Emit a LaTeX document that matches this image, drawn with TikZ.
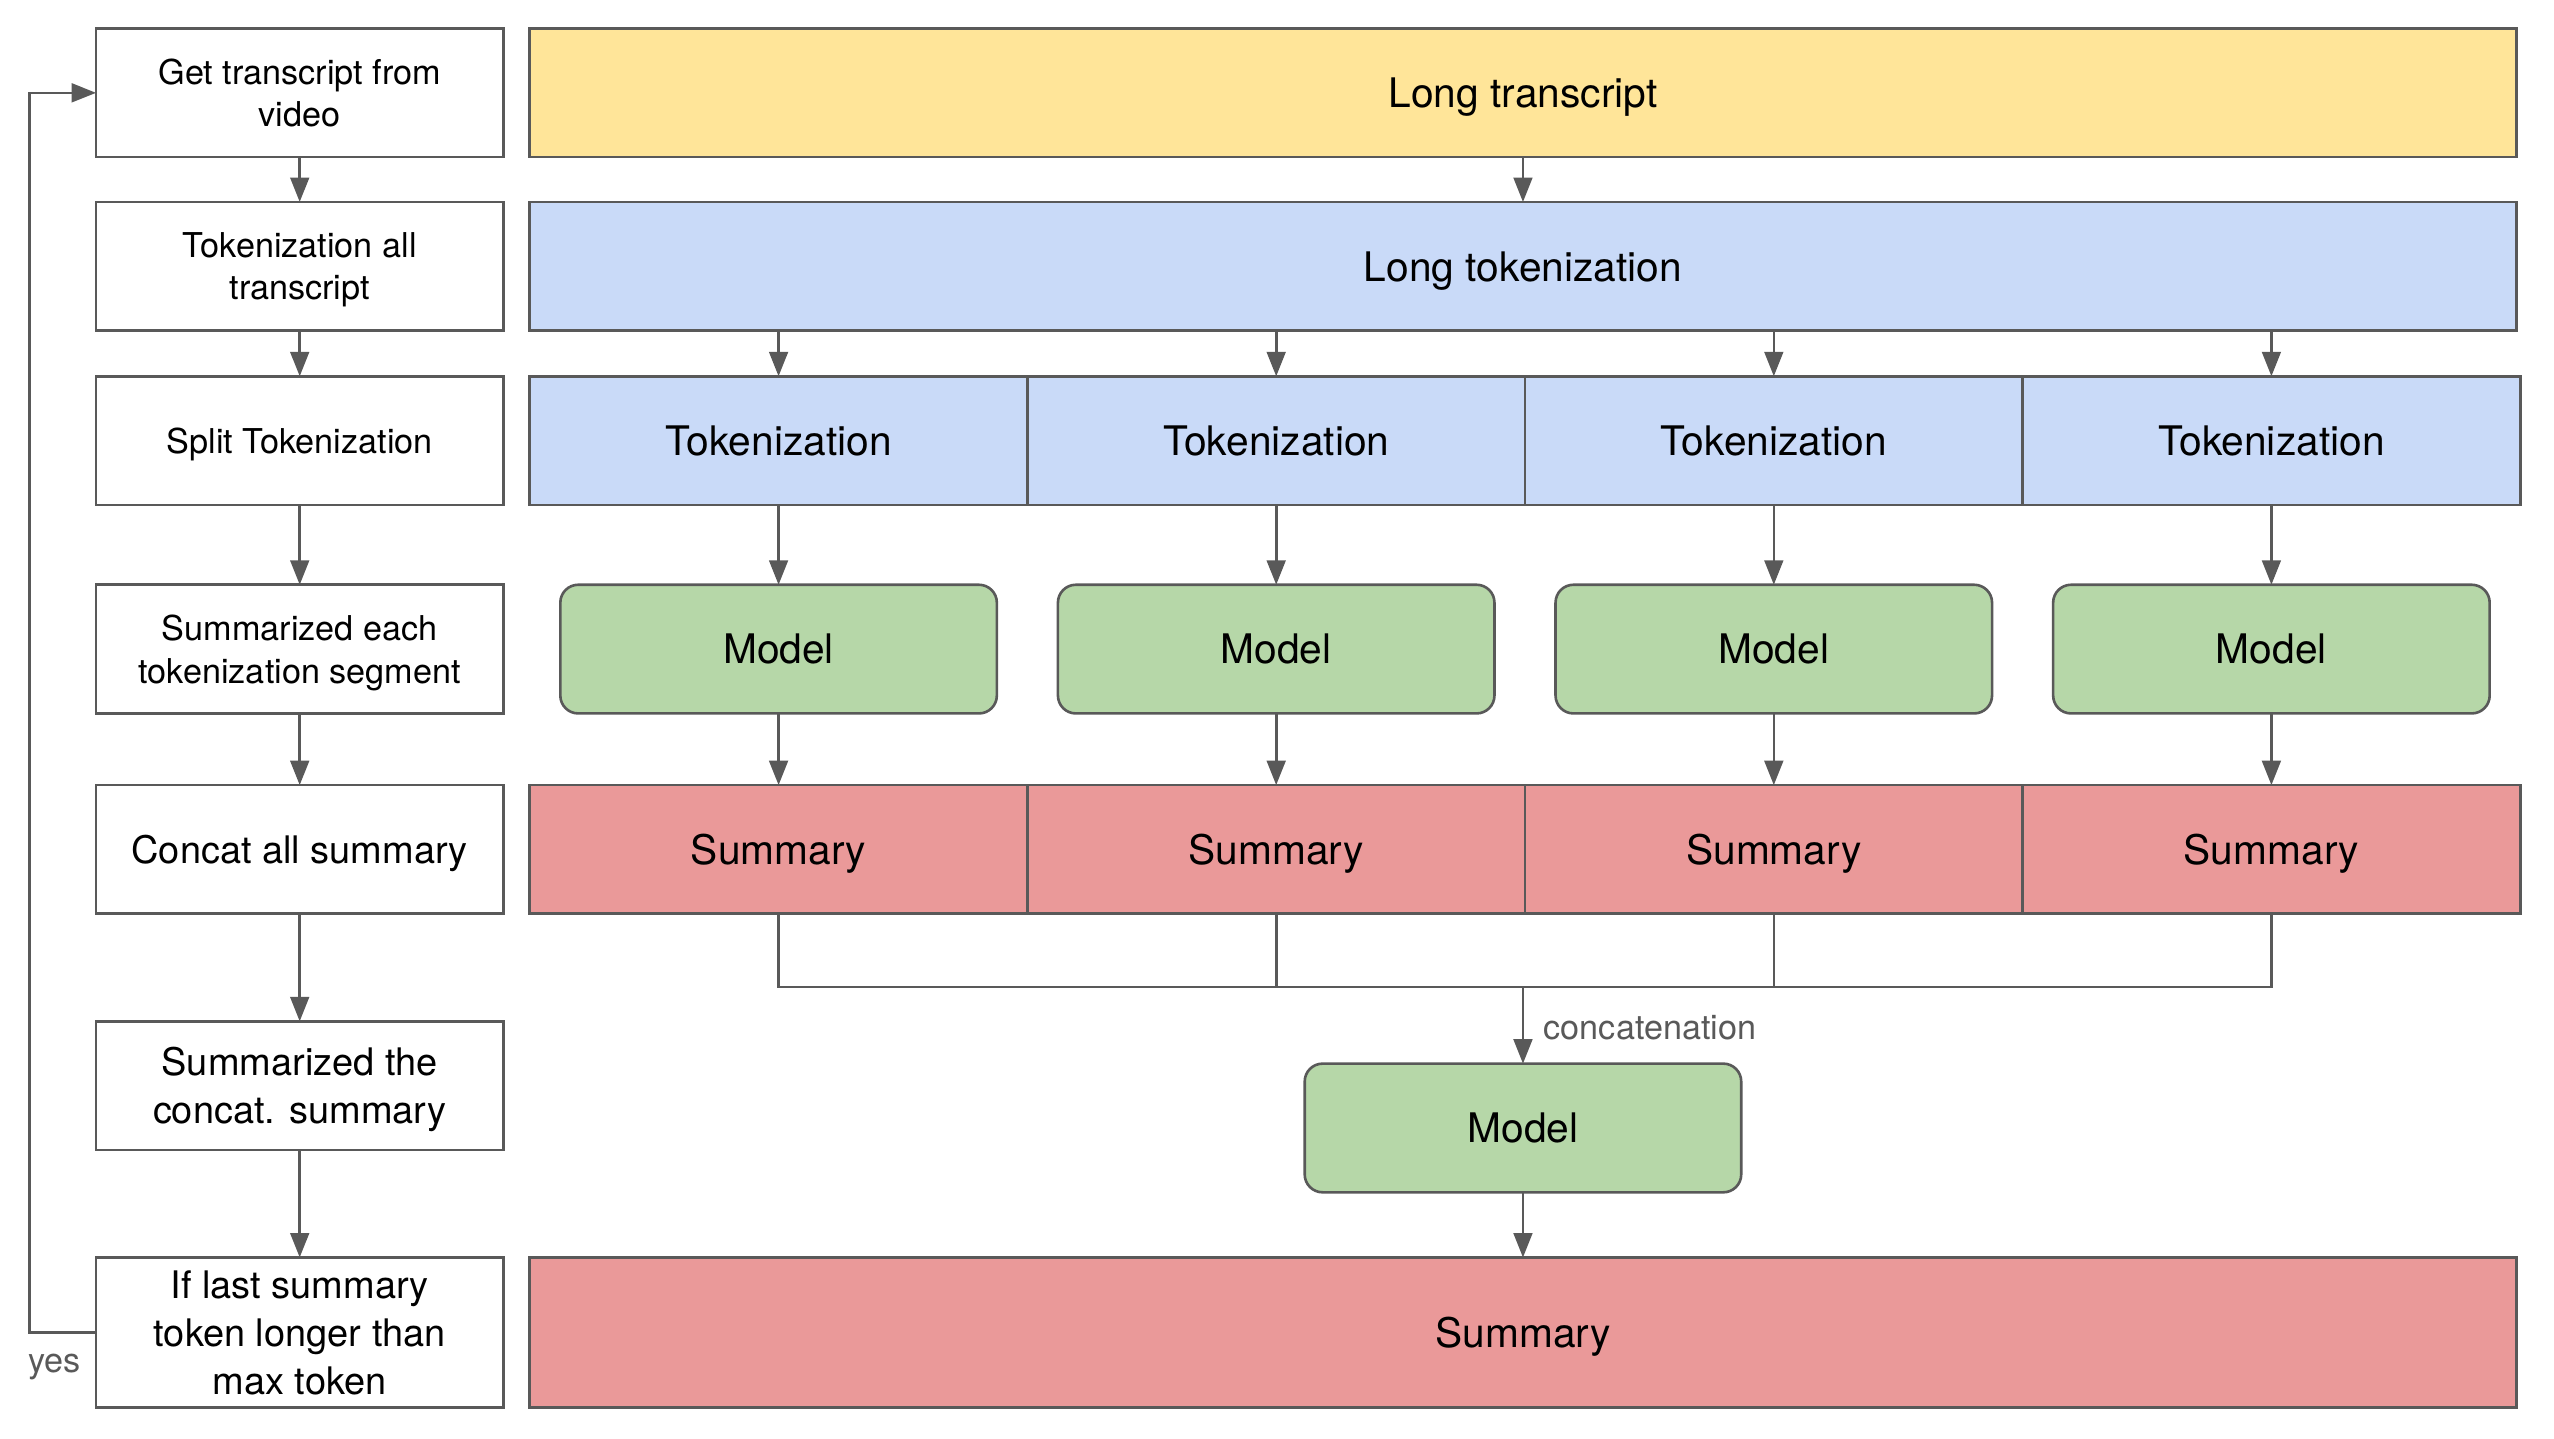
\documentclass[tikz,border=0pt]{standalone}
\usepackage{fontspec}
\setmainfont{TeX Gyre Heros}
\usetikzlibrary{arrows.meta}
\definecolor{lc}{HTML}{595959}
\definecolor{cyel}{HTML}{FFE599}
\definecolor{cblu}{HTML}{C9DAF8}
\definecolor{cgrn}{HTML}{B6D7A8}
\definecolor{cred}{HTML}{EA9999}
\tikzset{
  base/.style={draw=lc, line width=1.6pt, inner sep=0pt, outer sep=0pt, align=center, text=black, text depth=0pt},
  lbox/.style={base, fill=white, minimum width=250pt, minimum height=79pt, font=\fontsize{21pt}{26pt}\selectfont},
  lboxb/.style={lbox, font=\fontsize{23.3pt}{29.5pt}\selectfont},
  wide/.style={base, minimum width=1220pt, minimum height=79pt, font=\fontsize{25pt}{31pt}\selectfont},
  seg/.style={base, minimum width=305.5pt, minimum height=79pt, font=\fontsize{25pt}{31pt}\selectfont},
  modelbox/.style={base, fill=cgrn, rounded corners=11pt, minimum width=268pt, minimum height=79pt, font=\fontsize{25pt}{31pt}\selectfont},
  conn/.style={draw=lc, line width=1.6pt},
  arr/.style={conn, -{Triangle[length=15pt, width=11.5pt]}},
  lab/.style={text=lc, inner sep=0pt, font=\fontsize{21pt}{26pt}\selectfont}
}
\begin{document}
\begin{tikzpicture}[x=1pt, y=-1pt]
\useasboundingbox (0,0) rectangle (1568,883);
% left column
\node[lbox] (r1) at (184,57) {Get transcript from\\video};
\node[lbox] (r2) at (184,163.5) {Tokenization all\\transcript};
\node[lbox] (r3) at (184,270.5) {Split Tokenization};
\node[lbox] (r4) at (184,398.5) {Summarized each\\tokenization segment};
\node[lboxb] (r5) at (184,521.5) {Concat all summary};
\node[lboxb] (r6) at (184,666.5) {Summarized the\\concat. summary};
\node[lboxb, minimum height=92pt] (r7) at (184,818) {If last summary\\token longer than\\max token};
\draw[arr] (r1) -- (r2);
\draw[arr] (r2) -- (r3);
\draw[arr] (r3) -- (r4);
\draw[arr] (r4) -- (r5);
\draw[arr] (r5) -- (r6);
\draw[arr] (r6) -- (r7);
% loop
\coordinate (lx) at (18,0);
\draw[arr] (r7.west) -- (r7.west -| lx) -- (r1.west -| lx) -- (r1.west);
\node[lab] (yes) at (33.5,839.5) {yes};
% right side
\node[wide, fill=cyel] (lt) at (935,57) {Long transcript};
\node[wide, fill=cblu] (ltok) at (935,163.5) {Long tokenization};
\draw[arr] (lt) -- (ltok);
\node[seg, fill=cblu] (t1) at (478,270.5) {Tokenization};
\node[seg, fill=cblu] (t2) at (783.5,270.5) {Tokenization};
\node[seg, fill=cblu] (t3) at (1089,270.5) {Tokenization};
\node[seg, fill=cblu] (t4) at (1394.5,270.5) {Tokenization};
\node[modelbox] (m1) at (478,398.5) {Model};
\node[modelbox] (m2) at (783.5,398.5) {Model};
\node[modelbox] (m3) at (1089,398.5) {Model};
\node[modelbox] (m4) at (1394.5,398.5) {Model};
\node[seg, fill=cred] (s1) at (478,521.5) {Summary};
\node[seg, fill=cred] (s2) at (783.5,521.5) {Summary};
\node[seg, fill=cred] (s3) at (1089,521.5) {Summary};
\node[seg, fill=cred] (s4) at (1394.5,521.5) {Summary};
\foreach \i in {1,...,4}{
  \draw[arr] (ltok.south -| t\i) -- (t\i.north);
  \draw[arr] (t\i) -- (m\i);
  \draw[arr] (m\i) -- (s\i);
}
% merge
\coordinate (mg) at (935,606);
\draw[conn] (s1.south) -- (s1.south |- mg) -- (s4.south |- mg) -- (s4.south);
\draw[conn] (s2.south) -- (s2.south |- mg);
\draw[conn] (s3.south) -- (s3.south |- mg);
\node[modelbox] (fm) at (935,692.5) {Model};
\draw[arr] (mg) -- (fm.north) node[lab, midway, anchor=west, xshift=12pt, yshift=-1.5pt] {concatenation};
\node[wide, fill=cred, minimum height=92pt] (fs) at (935,818) {Summary};
\draw[arr] (fm) -- (fs);
\end{tikzpicture}
\end{document}
